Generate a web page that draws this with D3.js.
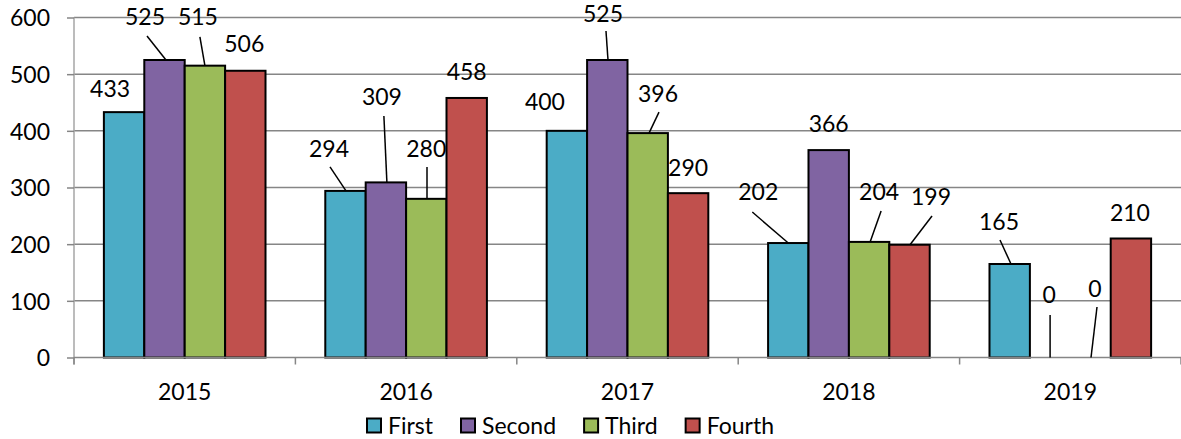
<!DOCTYPE html>
<html>
<head>
<meta charset="utf-8">
<script src="https://cdn.jsdelivr.net/npm/d3@7"></script>
<style>
  html, body { margin: 0; padding: 0; background: #fff; }
  svg { display: block; font-family: Lato, "Open Sans", sans-serif; }
</style>
</head>
<body>
<svg id="chart" width="1181" height="439"></svg>
<script>
// ---- data ----
const categories = ["2015", "2016", "2017", "2018", "2019"];
const seriesNames = ["First", "Second", "Third", "Fourth"];
const firstValues  = [433, 294, 400, 202, 165];
const secondValues = [525, 309, 525, 366, 0];
const thirdValues  = [515, 280, 396, 204, 0];
const fourthValues = [506, 458, 290, 199, 210];
const yTicks = [0, 100, 200, 300, 400, 500, 600];

// ---- style / layout ----
const colors = ["#4BACC6", "#8064A2", "#9BBB59", "#C0504D"];
// label offsets relative to bar top-center: [dx, dy(baseline), leader or null]
const labelLayout = [
  [[-14,-15,null], [-16.5,-34,[-15.5,-24,0.5,0]], [-22,-21,null], [-30,-43,[-36,-31,0,0]], [-10.7,-34,[-9.7,-24,1.3,0]]],
  [[-19.5,-35,[-17.5,-24,1.5,0]], [-4,-77.4,[-2,-66.4,1,0]], [-4.3,-38,[-1.3,-29,0.7,0]], [0,-18,null], [-1,-54.5,[0,-42.5,0,0]]],
  [[-7,-40.7,[-5,-28.7,0,0]], [0,-41.8,[0.7,-31.8,0.7,0]], [10.3,-31,[11.3,-21,1.3,0]], [10,-42,[12,-31,1,0]], [4.5,-60.5,[6.5,-50.5,0.5,0]]],
  [[-1,-18.7,null], [0,-18,null], [0,-17,null], [21.5,-39.7,[22.5,-28.7,0.5,0]], [-1,-17.5,null]]
];

const allSeries = [firstValues, secondValues, thirdValues, fourthValues];
const svg = d3.select("#chart");
const plotLeft = 74, plotRight = 1181, plotTop = 17.5, plotBottom = 357.5;
const fontSize = 23;

const x0 = d3.scaleBand().domain(categories).range([plotLeft, plotRight]).paddingInner(0.27).paddingOuter(0.135);
const x1 = d3.scaleBand().domain(seriesNames).range([0, x0.bandwidth()]);
const y = d3.scaleLinear().domain([0, 600]).range([plotBottom, plotTop]);

// gridlines
svg.append("g").selectAll("line").data(yTicks.filter(d => d > 0)).join("line")
  .attr("x1", plotLeft).attr("x2", plotRight)
  .attr("y1", d => y(d)).attr("y2", d => y(d))
  .attr("stroke", "#868686").attr("stroke-width", 1.5);

// y axis
const yAxis = d3.axisLeft(y).tickValues(yTicks).tickSize(7).tickPadding(17);
const gy = svg.append("g").attr("transform", `translate(${plotLeft},0)`).call(yAxis);
gy.select(".domain").attr("stroke", "#A6A6A6").attr("stroke-width", 1.5).attr("d", `M0,${plotTop}V${plotBottom + 7}`);
gy.selectAll(".tick line").attr("stroke", "#868686").attr("stroke-width", 1.5);
gy.selectAll(".tick text").attr("font-size", fontSize).attr("font-family", "Lato").attr("fill", "#000").attr("dy", "0.36em");

// bars
const groups = svg.append("g").selectAll("g").data(categories).join("g")
  .attr("transform", d => `translate(${x0(d)},0)`);
groups.selectAll("rect")
  .data((c, i) => seriesNames.map((s, k) => ({ s, k, v: allSeries[k][i] })))
  .join("rect")
  .attr("x", d => x1(d.s))
  .attr("y", d => y(d.v))
  .attr("width", x1.bandwidth())
  .attr("height", d => y(0) - y(d.v))
  .attr("fill", d => colors[d.k])
  .attr("stroke", d => d.v > 0 ? "#000" : "none")
  .attr("stroke-width", 2);

// x axis
const xAxis = d3.axisBottom(x0).tickSize(0).tickPadding(26);
const gx = svg.append("g").attr("transform", `translate(0,${plotBottom})`).call(xAxis);
gx.select(".domain").attr("stroke", "#868686").attr("stroke-width", 1.5).attr("d", `M${plotLeft},0H${plotRight}`);
gx.selectAll(".tick text").attr("font-size", fontSize).attr("font-family", "Lato").attr("fill", "#000").attr("dy", "0.71em");
// category separator ticks
const step = x0.step();
const sepX = d3.range(categories.length + 1).map(i => plotLeft + i * step);
svg.append("g").selectAll("line").data(sepX).join("line")
  .attr("x1", d => d).attr("x2", d => d)
  .attr("y1", plotBottom).attr("y2", plotBottom + 7)
  .attr("stroke", "#868686").attr("stroke-width", 1.5);

// data labels & leader lines
const labels = [];
categories.forEach((c, i) => {
  seriesNames.forEach((s, k) => {
    const v = allSeries[k][i];
    const cx = x0(c) + x1(s) + x1.bandwidth() / 2;
    const cy = y(v);
    const [dx, dy, lead] = labelLayout[k][i];
    labels.push({ v, cx, cy, dx, dy, lead });
  });
});
const lg = svg.append("g");
lg.selectAll("line").data(labels.filter(d => d.lead)).join("line")
  .attr("x1", d => d.cx + d.lead[0]).attr("y1", d => d.cy + d.lead[1])
  .attr("x2", d => d.cx + d.lead[2]).attr("y2", d => d.cy + d.lead[3])
  .attr("stroke", "#000").attr("stroke-width", 1.5);
lg.selectAll("text").data(labels).join("text")
  .attr("x", d => d.cx + d.dx).attr("y", d => d.cy + d.dy)
  .attr("text-anchor", "middle")
  .attr("font-size", fontSize).attr("font-family", "Lato").attr("fill", "#000")
  .text(d => d.v);

// legend
const legend = svg.append("g");
let lx = 367;
seriesNames.forEach((s, k) => {
  const item = legend.append("g").attr("transform", `translate(${lx},0)`);
  item.append("rect").attr("x", 0).attr("y", 418.5).attr("width", 14).attr("height", 14)
    .attr("fill", colors[k]).attr("stroke", "#000").attr("stroke-width", 2);
  const t = item.append("text").attr("x", 21).attr("y", 434)
    .attr("font-size", fontSize).attr("font-family", "Lato").attr("fill", "#000").text(s);
  lx += 21 + t.node().getComputedTextLength() + 28;
});
</script>
</body>
</html>
